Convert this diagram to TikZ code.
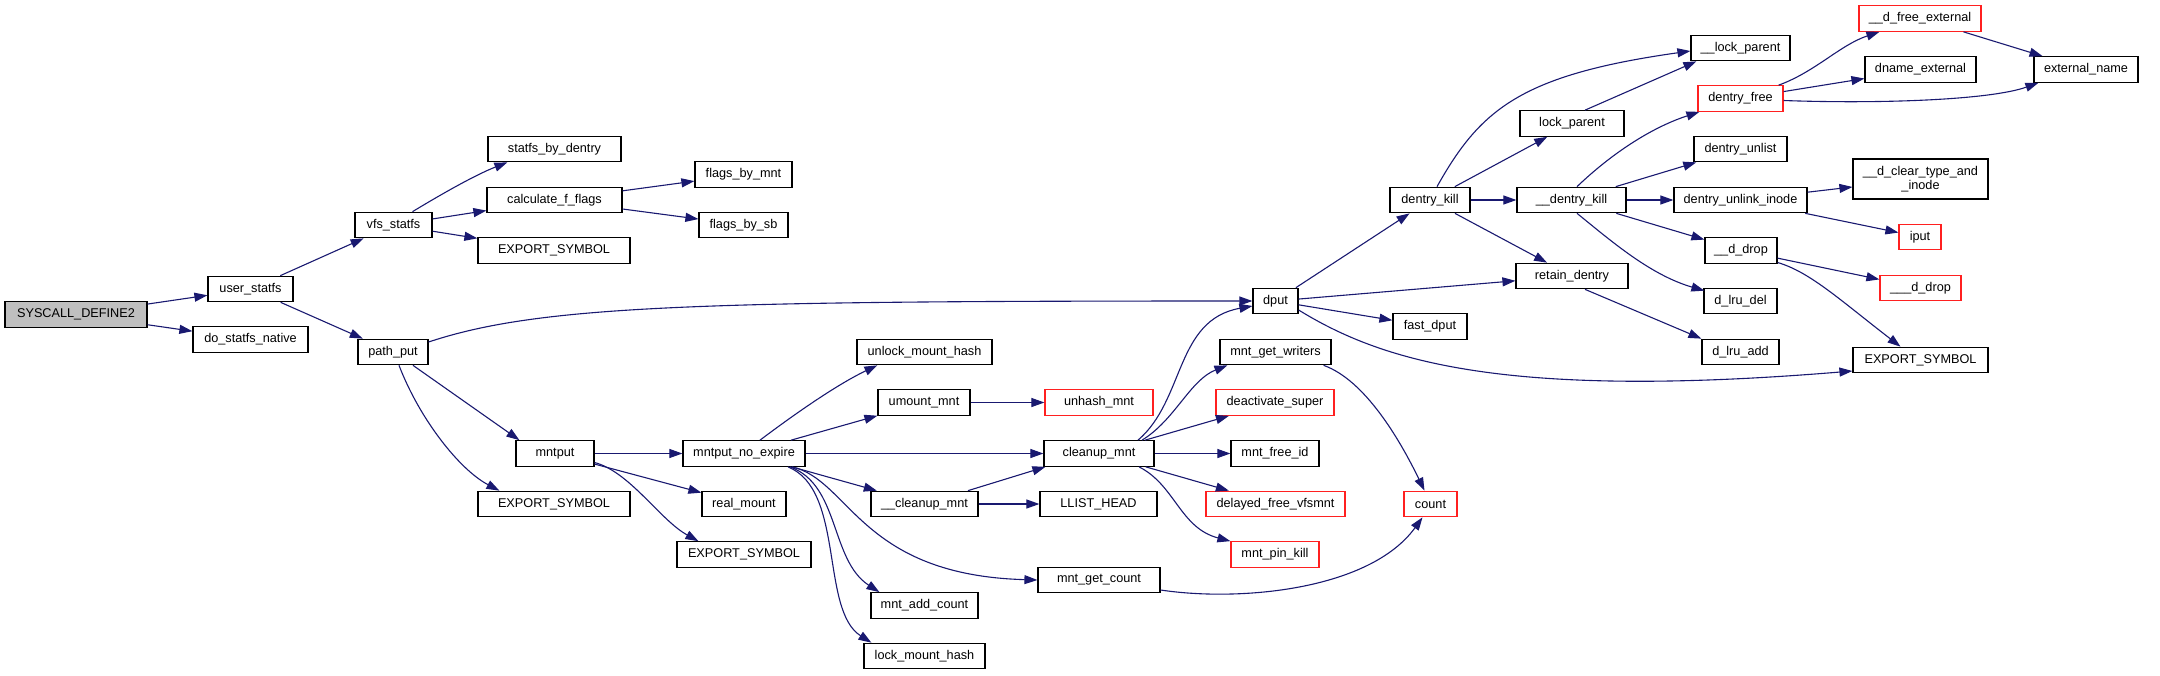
\documentclass[tikz,border=0pt]{standalone}
\usepackage{fontspec}
\setmainfont{Liberation Sans}
\usetikzlibrary{arrows.meta,calc}
\definecolor{edgec}{HTML}{191970}
\definecolor{redb}{HTML}{FF2020}
\definecolor{grayf}{HTML}{BFBFBF}
\begin{document}
\begin{tikzpicture}[x=1pt,y=-1pt,
  fn/.style={draw=black, line width=1.2pt, fill=white, inner sep=0pt, minimum height=25.5pt,
    font=\fontsize{12.7}{14}\selectfont, text=black},
  fr/.style={fn, draw=redb},
  e/.style={draw=edgec, line width=1.1pt, -{Triangle[length=13pt,width=9pt]}}]
\useasboundingbox (0,0) rectangle (2160,675);
% nodes
\node[fn, minimum width=142pt, fill=grayf] (sys) at (76,314.5) {SYSCALL\_DEFINE2};
\node[fn, minimum width=85pt] (ust) at (250.5,289) {user\_statfs};
\node[fn, minimum width=115pt] (dsn) at (250.5,339.5) {do\_statfs\_native};
\node[fn, minimum width=77pt] (vfs) at (393.5,225) {vfs\_statfs};
\node[fn, minimum width=70pt] (pp) at (393,352) {path\_put};
\node[fn, minimum width=133pt] (sbd) at (554.5,149) {statfs\_by\_dentry};
\node[fn, minimum width=135pt] (cff) at (554.5,200) {calculate\_f\_flags};
\node[fn, minimum width=152pt] (es1) at (554,250.5) {EXPORT\_SYMBOL};
\node[fn, minimum width=97pt] (fbm) at (743.5,174.5) {flags\_by\_mnt};
\node[fn, minimum width=89pt] (fbs) at (743.5,225) {flags\_by\_sb};
\node[fn, minimum width=78pt] (mntput) at (555,453.5) {mntput};
\node[fn, minimum width=152pt] (es2) at (554,504) {EXPORT\_SYMBOL};
\node[fn, minimum width=122pt] (mne) at (744,453.5) {mntput\_no\_expire};
\node[fn, minimum width=84pt] (rm) at (744,504) {real\_mount};
\node[fn, minimum width=134pt] (es3) at (744,554.5) {EXPORT\_SYMBOL};
\node[fn, minimum width=135pt] (umh) at (924.5,352) {unlock\_mount\_hash};
\node[fn, minimum width=92pt] (um) at (924,402.5) {umount\_mnt};
\node[fn, minimum width=107pt] (cum) at (924.5,504) {\_\_cleanup\_mnt};
\node[fn, minimum width=107pt] (mac) at (924.5,605.5) {mnt\_add\_count};
\node[fn, minimum width=121pt] (lmh) at (924.5,656) {lock\_mount\_hash};
\node[fr, minimum width=108pt] (uhm) at (1099,402.5) {unhash\_mnt};
\node[fn, minimum width=110pt] (cm) at (1099,453.5) {cleanup\_mnt};
\node[fn, minimum width=117pt] (llh) at (1098.5,504) {LLIST\_HEAD};
\node[fn, minimum width=122pt] (mgc) at (1099,580) {mnt\_get\_count};
\node[fn, minimum width=45pt] (dput) at (1275.5,301) {dput};
\node[fn, minimum width=74pt] (fdp) at (1430,326.5) {fast\_dput};
\node[fn, minimum width=111pt] (mgw) at (1275.5,352) {mnt\_get\_writers};
\node[fr, minimum width=118pt] (das) at (1275,402.5) {deactivate\_super};
\node[fn, minimum width=88pt] (mfi) at (1275,453.5) {mnt\_free\_id};
\node[fr, minimum width=139pt] (dfv) at (1275.5,504) {delayed\_free\_vfsmnt};
\node[fr, minimum width=88pt] (mpk) at (1275,554.5) {mnt\_pin\_kill};
\node[fr, minimum width=53pt] (cnt) at (1430.5,504) {count};
\node[fn, minimum width=80pt] (dk) at (1430,200) {dentry\_kill};
\node[fn, minimum width=104pt] (lp) at (1572,123.5) {lock\_parent};
\node[fn, minimum width=109pt] (ddk) at (1571.5,200) {\_\_dentry\_kill};
\node[fn, minimum width=112pt] (rd) at (1572,276) {retain\_dentry};
\node[fn, minimum width=99pt] (lp2) at (1740.5,48) {\_\_lock\_parent};
\node[fr, minimum width=85pt] (df) at (1740.5,98.5) {dentry\_free};
\node[fn, minimum width=93pt] (du) at (1740.5,149) {dentry\_unlist};
\node[fn, minimum width=133pt] (dui) at (1740.5,200) {dentry\_unlink\_inode};
\node[fn, minimum width=72pt] (dd) at (1741,250.5) {\_\_d\_drop};
\node[fn, minimum width=73pt] (dld) at (1740.5,301) {d\_lru\_del};
\node[fn, minimum width=77pt] (dla) at (1740.5,352) {d\_lru\_add};
\node[fr, minimum width=122pt] (dfe) at (1920,18.5) {\_\_d\_free\_external};
\node[fn, minimum width=111pt] (dne) at (1920.5,69.5) {dname\_external};
\node[fn, minimum width=104pt] (en) at (2086,69.5) {external\_name};
\node[fn, minimum width=135pt, minimum height=40pt, align=center] (dct) at (1920.5,179) {\_\_d\_clear\_type\_and\\\_inode};
\node[fr, minimum width=42pt] (ip) at (1920,237) {iput};
\node[fr, minimum width=81pt] (ddd) at (1920.5,288) {\_\_\_d\_drop};
\node[fn, minimum width=135pt] (es4) at (1920.5,360) {EXPORT\_SYMBOL};
% edges
\draw[e] (sys) -- (ust);
\draw[e] (sys) -- (dsn);
\draw[e] (ust) -- (vfs);
\draw[e] (ust) -- (pp);
\draw[e] ($(vfs.north)+(19,0)$) .. controls (440,195) and (475,175) .. ($(sbd.south west)+(20,0)$);
\draw[e] (vfs) -- (cff);
\draw[e] (vfs) -- (es1);
\draw[e] (cff) -- (fbm);
\draw[e] (cff) -- (fbs);
\draw[e] ($(pp.east)+(0,-10)$) .. controls (540,305) and (700,301) .. (dput.west);
\draw[e] ($(pp.south)+(20,0)$) -- ($(mntput.north west)+(4,0)$);
\draw[e] ($(pp.south)+(6,0)$) .. controls (420,420) and (460,470) .. ($(es2.north west)+(22,0)$);
\draw[e] (mntput) -- (mne);
\draw[e] (mntput) -- (rm);
\draw[e] ($(mntput.east)+(0,9)$) .. controls (630,472) and (660,520) .. ($(es3.north west)+(22,0)$);
\draw[e] ($(mne.north)+(16,0)$) .. controls (800,410) and (840,383) .. ($(umh.south west)+(21,0)$);
\draw[e] (mne) -- (um);
\draw[e] (mne) -- (cm);
\draw[e] (mne) -- (cum);
\draw[e] ($(mne.south)+(48,0)$) .. controls (850,480) and (860,575) .. (mgc.west);
\draw[e] ($(mne.south)+(46,0)$) .. controls (840,485) and (830,560) .. ($(mac.north west)+(9,0)$);
\draw[e] ($(mne.south)+(44,0)$) .. controls (845,490) and (820,610) .. ($(lmh.north west)+(8,0)$);
\draw[e] (um) -- (uhm);
\draw[e] (cum) -- ($(cm.south west)+(2,0)$);
\draw[e] (cum) -- (llh);
\draw[e] ($(cm.north)+(39,0)$) .. controls (1185,400) and (1175,320) .. ($(dput.west)+(0,5)$);
\draw[e] ($(cm.north)+(43,0)$) .. controls (1175,420) and (1190,380) .. ($(mgw.south west)+(8,0)$);
\draw[e] (cm) -- (das);
\draw[e] (cm) -- (mfi);
\draw[e] (cm) -- (dfv);
\draw[e] ($(cm.south)+(40,0)$) .. controls (1175,485) and (1180,528) .. (mpk.north west);
\draw[e] ($(mgw.south east)+(-8,0)$) .. controls (1365,380) and (1400,440) .. ($(cnt.north)+(-6,0)$);
\draw[e] ($(mgc.east)+(0,10)$) .. controls (1240,602) and (1370,590) .. ($(cnt.south)+(-8,0)$);
\draw[e] (dput) -- (dk);
\draw[e] (dput) -- (rd);
\draw[e] (dput) -- (fdp);
\draw[e] ($(dput.east)+(0,9)$) .. controls (1380,360) and (1500,400) .. ($(es4.west)+(0,11)$);
\draw[e] ($(dk.north)+(7,0)$) .. controls (1480,110) and (1520,75) .. ($(lp2.west)+(0,3)$);
\draw[e] (dk) -- (lp);
\draw[e] (dk) -- (ddk);
\draw[e] (dk) -- (rd);
\draw[e] ($(lp.north)+(13,0)$) -- ($(lp2.south west)+(6,0)$);
\draw[e] ($(ddk.north)+(5.5,0)$) .. controls (1610,155) and (1650,128) .. ($(df.south west)+(2,0)$);
\draw[e] (ddk) -- (du);
\draw[e] (ddk) -- (dui);
\draw[e] (ddk) -- (dd);
\draw[e] ($(ddk.south)+(5.5,0)$) .. controls (1610,240) and (1650,275) .. ($(dld.north west)+(1,3)$);
\draw[e] ($(rd.south)+(13,0)$) -- (dla.north west);
\draw[e] ($(df.north east)+(-5,0)$) .. controls (1815,72) and (1840,45) .. ($(dfe.south west)+(21,0)$);
\draw[e] (df) -- (dne);
\draw[e] ($(df.east)+(0,2)$) .. controls (1880,104) and (1990,100) .. ($(en.south west)+(5,0)$);
\draw[e] (dfe) -- (en);
\draw[e] (dui) -- (dct);
\draw[e] (dui) -- (ip);
\draw[e] (dd) -- (ddd);
\draw[e] ($(dd.east)+(0,12)$) .. controls (1810,272) and (1840,300) .. ($(es4.north)+(-20,0)$);
\end{tikzpicture}
\end{document}
